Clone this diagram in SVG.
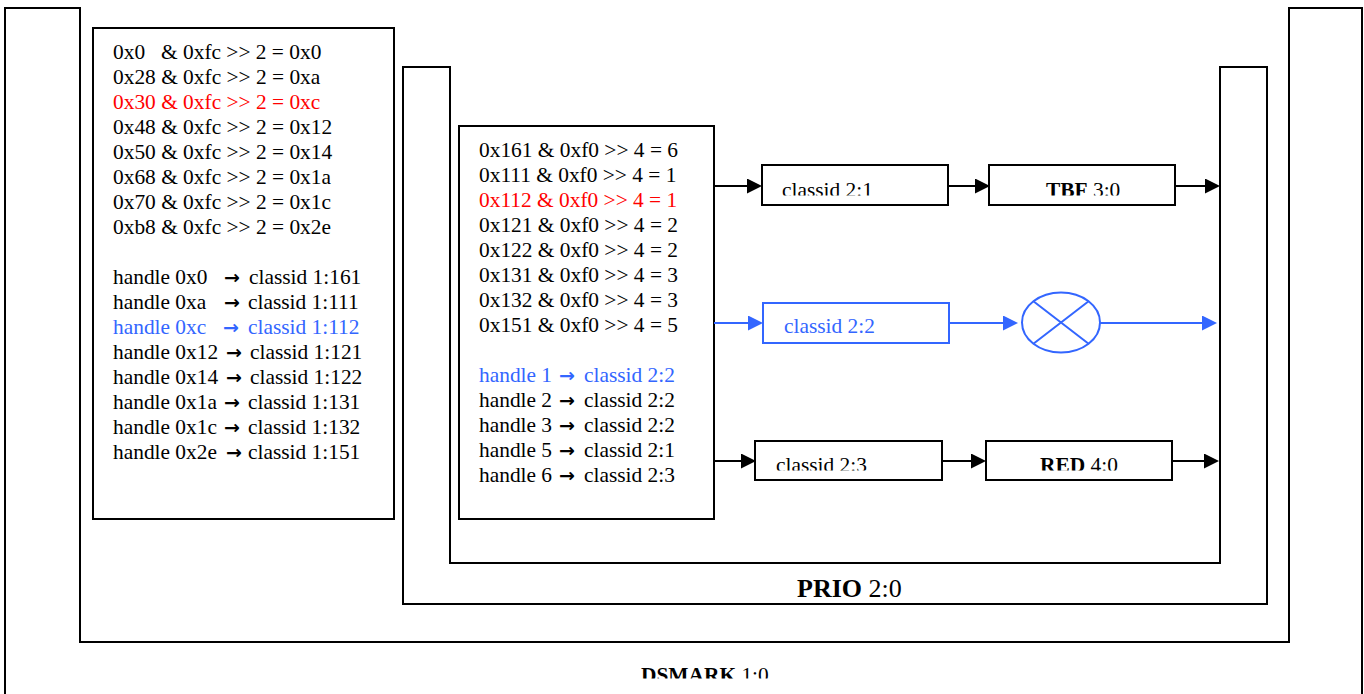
<svg xmlns="http://www.w3.org/2000/svg" width="1364" height="694" viewBox="0 0 1364 694">
  <style>
    .wall { fill: none; stroke: #000; stroke-width: 2; }
    .box { fill: #fff; stroke: #000; stroke-width: 2; }
    .box-blue { fill: #fff; stroke: #3366ff; stroke-width: 2; }
    .txt { font-family: "Liberation Serif", "Times New Roman", serif; font-size: 21.4px; fill: #000; }
    .arr { font-family: "DejaVu Sans", sans-serif; font-size: 19px; font-weight: bold; }
    .red { fill: #ff0000; }
    .blue { fill: #3366ff; }
    .b { font-weight: bold; }
    .big { font-size: 26px; }
    .link { fill: none; stroke: #000; stroke-width: 2; }
    .link-blue { fill: none; stroke: #3366ff; stroke-width: 2; }
  </style>
  <defs>
    <marker id="head" viewBox="0 0 15 15" refX="4" refY="7.5" markerWidth="15" markerHeight="15" markerUnits="userSpaceOnUse" orient="auto">
      <path d="M0,0 L15,7.5 L0,15 Z" fill="#000"/>
    </marker>
    <marker id="head-blue" viewBox="0 0 15 15" refX="4" refY="7.5" markerWidth="15" markerHeight="15" markerUnits="userSpaceOnUse" orient="auto">
      <path d="M0,0 L15,7.5 L0,15 Z" fill="#3366ff"/>
    </marker>
    <!-- labels inside the small boxes are cut off just above their baseline -->
    <clipPath id="clip-row1"><rect x="700" y="160" width="520" height="35.5"/></clipPath>
    <clipPath id="clip-row2"><rect x="700" y="298" width="520" height="36"/></clipPath>
    <clipPath id="clip-row3"><rect x="700" y="436" width="520" height="34.5"/></clipPath>
    <clipPath id="clip-dsmark"><rect x="600" y="650" width="200" height="28.5"/></clipPath>
  </defs>

  <rect x="0" y="0" width="1364" height="694" fill="#fff"/>

  <!-- DSMARK 1:0 root qdisc -->
  <g id="dsmark">
    <path class="wall" d="M5,694 V8 H80 V642 H1289 V8 H1362 V694"/>
    <text class="txt" x="641" y="682" clip-path="url(#clip-dsmark)"><tspan class="b">DSMARK</tspan> 1:0</text>
  </g>

  <!-- PRIO 2:0 inner qdisc -->
  <g id="prio">
    <path class="wall" d="M403,604 V67 H450 V563 H1220 V67 H1267 V604 Z"/>
    <text class="txt big" x="797" y="597"><tspan class="b">PRIO</tspan> 2:0</text>
  </g>

  <!-- tcindex filter on DSMARK -->
  <g id="filter-dsmark">
    <rect class="box" x="93" y="28" width="301" height="491"/>
    <text class="txt" x="113" y="59">0x0<tspan x="161">&amp; 0xfc &gt;&gt; 2 = 0x0</tspan></text>
    <text class="txt" x="113" y="84">0x28 &amp; 0xfc &gt;&gt; 2 = 0xa</text>
    <text class="txt red" x="113" y="109">0x30 &amp; 0xfc &gt;&gt; 2 = 0xc</text>
    <text class="txt" x="113" y="134">0x48 &amp; 0xfc &gt;&gt; 2 = 0x12</text>
    <text class="txt" x="113" y="159">0x50 &amp; 0xfc &gt;&gt; 2 = 0x14</text>
    <text class="txt" x="113" y="184">0x68 &amp; 0xfc &gt;&gt; 2 = 0x1a</text>
    <text class="txt" x="113" y="209">0x70 &amp; 0xfc &gt;&gt; 2 = 0x1c</text>
    <text class="txt" x="113" y="234">0xb8 &amp; 0xfc &gt;&gt; 2 = 0x2e</text>
    <text class="txt" x="113" y="284">handle 0x0<tspan class="arr" x="224">→</tspan><tspan x="249">classid 1:161</tspan></text>
    <text class="txt" x="113" y="309">handle 0xa<tspan class="arr" x="224">→</tspan><tspan x="248">classid 1:111</tspan></text>
    <text class="txt blue" x="113" y="334">handle 0xc<tspan class="arr" x="223">→</tspan><tspan x="248">classid 1:112</tspan></text>
    <text class="txt" x="113" y="359">handle 0x12<tspan class="arr" x="226">→</tspan><tspan x="250">classid 1:121</tspan></text>
    <text class="txt" x="113" y="384">handle 0x14<tspan class="arr" x="226">→</tspan><tspan x="250">classid 1:122</tspan></text>
    <text class="txt" x="113" y="409">handle 0x1a<tspan class="arr" x="224">→</tspan><tspan x="248">classid 1:131</tspan></text>
    <text class="txt" x="113" y="434">handle 0x1c<tspan class="arr" x="224">→</tspan><tspan x="248">classid 1:132</tspan></text>
    <text class="txt" x="113" y="459">handle 0x2e<tspan class="arr" x="226">→</tspan><tspan x="248">classid 1:151</tspan></text>
  </g>

  <!-- tcindex filter on PRIO -->
  <g id="filter-prio">
    <rect class="box" x="459" y="126" width="255" height="393"/>
    <text class="txt" x="479" y="157">0x161 &amp; 0xf0 &gt;&gt; 4 = 6</text>
    <text class="txt" x="479" y="182">0x111 &amp; 0xf0 &gt;&gt; 4 = 1</text>
    <text class="txt red" x="479" y="207">0x112 &amp; 0xf0 &gt;&gt; 4 = 1</text>
    <text class="txt" x="479" y="232">0x121 &amp; 0xf0 &gt;&gt; 4 = 2</text>
    <text class="txt" x="479" y="257">0x122 &amp; 0xf0 &gt;&gt; 4 = 2</text>
    <text class="txt" x="479" y="282">0x131 &amp; 0xf0 &gt;&gt; 4 = 3</text>
    <text class="txt" x="479" y="307">0x132 &amp; 0xf0 &gt;&gt; 4 = 3</text>
    <text class="txt" x="479" y="332">0x151 &amp; 0xf0 &gt;&gt; 4 = 5</text>
    <text class="txt blue" x="479" y="382">handle 1<tspan class="arr" x="559">→</tspan><tspan x="584">classid 2:2</tspan></text>
    <text class="txt" x="479" y="407">handle 2<tspan class="arr" x="559">→</tspan><tspan x="584">classid 2:2</tspan></text>
    <text class="txt" x="479" y="432">handle 3<tspan class="arr" x="559">→</tspan><tspan x="584">classid 2:2</tspan></text>
    <text class="txt" x="479" y="457">handle 5<tspan class="arr" x="559">→</tspan><tspan x="584">classid 2:1</tspan></text>
    <text class="txt" x="479" y="482">handle 6<tspan class="arr" x="559">→</tspan><tspan x="584">classid 2:3</tspan></text>
  </g>

  <!-- band 1 -->
  <g id="class-2-1">
    <rect class="box" x="762" y="165" width="186" height="40"/>
    <text class="txt" x="782" y="197" clip-path="url(#clip-row1)">classid 2:1</text>
  </g>
  <g id="tbf-3-0">
    <rect class="box" x="989" y="165" width="186" height="40"/>
    <text class="txt" x="1046" y="197" clip-path="url(#clip-row1)"><tspan class="b">TBF</tspan> 3:0</text>
  </g>

  <!-- band 2 -->
  <g id="class-2-2">
    <rect class="box-blue" x="763" y="303" width="186" height="40"/>
    <text class="txt blue" x="784" y="333" clip-path="url(#clip-row2)">classid 2:2</text>
  </g>
  <g id="drop">
    <ellipse cx="1061" cy="322.5" rx="39" ry="30" fill="#fff" stroke="#3366ff" stroke-width="2"/>
    <path d="M1033.4,301.3 L1088.6,343.7 M1033.4,343.7 L1088.6,301.3" stroke="#3366ff" stroke-width="2" fill="none"/>
  </g>

  <!-- band 3 -->
  <g id="class-2-3">
    <rect class="box" x="755" y="441" width="187" height="39"/>
    <text class="txt" x="776" y="472" clip-path="url(#clip-row3)">classid 2:3</text>
  </g>
  <g id="red-4-0">
    <rect class="box" x="986" y="441" width="186" height="39"/>
    <text class="txt" x="1040" y="472" clip-path="url(#clip-row3)"><tspan class="b">RED</tspan> 4:0</text>
  </g>

  <!-- connectors: lines stop 11px short of the arrow tip -->
  <g id="connectors">
    <line class="link" x1="714" y1="186" x2="751" y2="186" marker-end="url(#head)"/>
    <line class="link" x1="948" y1="186" x2="979" y2="186" marker-end="url(#head)"/>
    <line class="link" x1="1175" y1="186" x2="1209" y2="186" marker-end="url(#head)"/>

    <line class="link-blue" x1="714" y1="323" x2="752" y2="323" marker-end="url(#head-blue)"/>
    <line class="link-blue" x1="949" y1="323" x2="1007" y2="323" marker-end="url(#head-blue)"/>
    <line class="link-blue" x1="1100" y1="323" x2="1206" y2="323" marker-end="url(#head-blue)"/>

    <line class="link" x1="714" y1="461" x2="745" y2="461" marker-end="url(#head)"/>
    <line class="link" x1="942" y1="461" x2="975" y2="461" marker-end="url(#head)"/>
    <line class="link" x1="1172" y1="461" x2="1208" y2="461" marker-end="url(#head)"/>
  </g>
</svg>
